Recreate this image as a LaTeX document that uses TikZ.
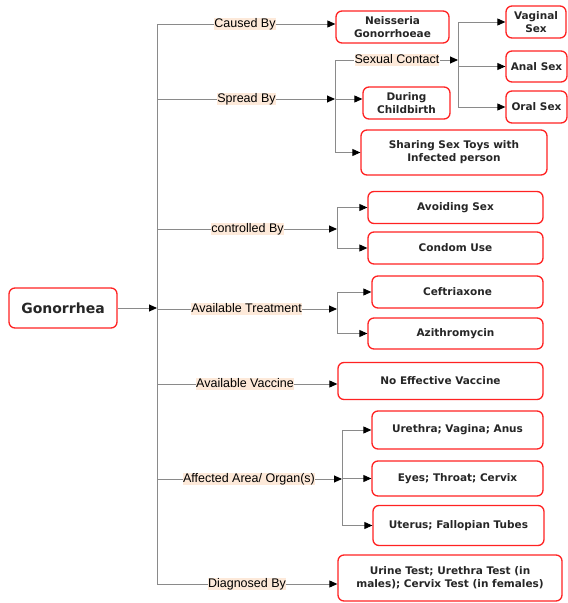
\documentclass[tikz,border=0pt]{standalone}
\usepackage{fontspec}
\setmainfont{Liberation Sans}
\newfontfamily\boxfont{DejaVu Sans}
\usepackage{tikz}
\usetikzlibrary{
  arrows.meta,
  calc
}
\definecolor{peach}{HTML}{FDE9D9}
\definecolor{linegray}{HTML}{8A8A8A}
\definecolor{boxred}{HTML}{FF2222}

\tikzset{
  box/.style={draw=boxred, line width=1.3pt, rounded corners=6pt, fill=white,
    align=center, inner sep=0pt, text=black!85,
    font=\boxfont\bfseries\fontsize{10.5}{13}\selectfont},
  lbl/.style={fill=peach, inner sep=0pt, text height=9.5pt, text depth=2.5pt,
    font=\fontsize{12.5}{14}\selectfont},
  link/.style={draw=linegray, line width=0.9pt},
  tip/.style={-{Triangle[length=8pt,width=7pt,color=black]}}
}

\begin{document}
\begin{tikzpicture}[x=1pt, y=-1pt]
  \useasboundingbox (0,0) rectangle (568,603);
  % root and spine
  \node[box, minimum width=108, minimum height=40,
    font=\boxfont\bfseries\fontsize{14}{16}\selectfont] (gono) at (63,308) {Gonorrhea};
  \coordinate (spinetop) at (157,24);
  \coordinate (spinebot) at (157,584);
  \draw[link] (spinetop) -- (spinebot);
  \draw[link, tip] (gono.east) -- (gono.east -| spinetop);

  % branch labels
  \node[lbl] (caused) at (245,24) {Caused By};
  \node[lbl] (spread) at (246.5,99) {Spread By};
  \node[lbl] (ctrl) at (247.5,229) {controlled By};
  \node[lbl] (treat) at (246.5,309) {Available Treatment};
  \node[lbl] (vacc) at (245,384) {Available Vaccine};
  \node[lbl] (area) at (249,479) {Affected Area/ Organ(s)};
  \node[lbl] (diag) at (247,584) {Diagnosed By};
  \foreach \n in {caused, spread, ctrl, treat, vacc, area, diag}
    \draw[link] (\n.west -| spinetop) -- (\n.west);

  % caused by
  \node[box, minimum width=113, minimum height=32] (neis) at (392.5,27) {Neisseria\\Gonorrhoeae};
  \draw[link, tip] (caused.east) -- (caused.east -| neis.west);

  % spread by
  \coordinate (sfork) at (335,99);
  \node[lbl] (sexual) at (397,60) {Sexual Contact};
  \node[box, minimum width=87, minimum height=32] (birth) at (406.5,103) {During\\Childbirth};
  \node[box, minimum width=186, minimum height=45] (toys) at (454,152.5) {Sharing Sex Toys with\\Infected person};
  \draw[link, tip] (spread.east) -- (sfork);
  \draw[link] (sexual.west -| sfork) -- (toys.west -| sfork);
  \draw[link] (sexual.west -| sfork) -- (sexual.west);
  \draw[link, tip] (sfork) -- (sfork -| birth.west);
  \draw[link, tip] (toys.west -| sfork) -- (toys.west);

  % sexual contact
  \coordinate (xfork) at (458,60);
  \node[box, minimum width=60, minimum height=32] (vag) at (536,22) {Vaginal\\Sex};
  \node[box, minimum width=61, minimum height=31] (anal) at (536.5,66.5) {Anal Sex};
  \node[box, minimum width=61, minimum height=32] (oral) at (536.5,107) {Oral Sex};
  \draw[link, tip] (sexual.east) -- (xfork);
  \draw[link] (xfork |- vag) -- (xfork |- oral);
  \foreach \b in {vag, anal, oral}
    \draw[link, tip] (xfork |- \b) -- (\b.west);

  % controlled by
  \coordinate (cfork) at (337,229);
  \node[box, minimum width=175, minimum height=32] (avoid) at (455.5,207.5) {Avoiding Sex};
  \node[box, minimum width=175, minimum height=32] (condom) at (455.5,248) {Condom Use};
  \draw[link, tip] (ctrl.east) -- (cfork);
  \draw[link] (cfork |- avoid) -- (cfork |- condom);
  \foreach \b in {avoid, condom}
    \draw[link, tip] (cfork |- \b) -- (\b.west);

  % treatment
  \coordinate (tfork) at (337,309);
  \node[box, minimum width=171, minimum height=32] (ceft) at (457.5,292) {Ceftriaxone};
  \node[box, minimum width=175, minimum height=31] (azi) at (455.5,333.5) {Azithromycin};
  \draw[link, tip] (treat.east) -- (tfork);
  \draw[link] (tfork |- ceft) -- (tfork |- azi);
  \foreach \b in {ceft, azi}
    \draw[link, tip] (tfork |- \b) -- (\b.west);

  % vaccine
  \node[box, minimum width=205, minimum height=37] (novac) at (440.5,381) {No Effective Vaccine};
  \draw[link, tip] (vacc.east) -- (vacc.east -| novac.west);

  % affected areas
  \coordinate (afork) at (342,479);
  \node[box, minimum width=171, minimum height=38] (ureth) at (457.5,430) {Urethra; Vagina; Anus};
  \node[box, minimum width=171, minimum height=35] (eyes) at (457.5,478.5) {Eyes; Throat; Cervix};
  \node[box, minimum width=171, minimum height=40] (uter) at (458.5,525.5) {Uterus; Fallopian Tubes};
  \draw[link, tip] (area.east) -- (afork);
  \draw[link] (afork |- ureth) -- (afork |- uter);
  \foreach \b in {ureth, eyes, uter}
    \draw[link, tip] (afork |- \b) -- (\b.west);

  % diagnosis
  \node[box, minimum width=224, minimum height=46] (tests) at (450,578) {Urine Test; Urethra Test (in\\males); Cervix Test (in females)};
  \draw[link, tip] (diag.east) -- (diag.east -| tests.west);
\end{tikzpicture}
\end{document}
